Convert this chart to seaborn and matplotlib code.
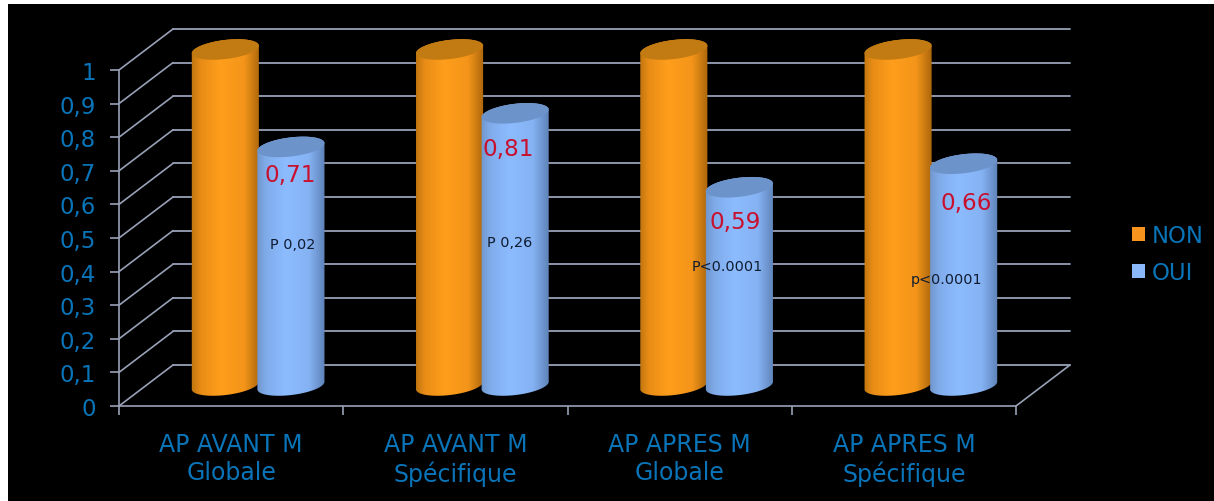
import numpy as np
import pandas as pd
import matplotlib
matplotlib.use("Agg")
import matplotlib.pyplot as plt
import seaborn as sns
from matplotlib.colors import LinearSegmentedColormap
from matplotlib.patches import Polygon, Rectangle
from matplotlib.path import Path
from matplotlib.transforms import Affine2D, IdentityTransform

categories = ["AP AVANT M\nGlobale", "AP AVANT M\nSpécifique", "AP APRES M\nGlobale", "AP APRES M\nSpécifique"]
non_values = [1, 1, 1, 1]
oui_values = [0.71, 0.81, 0.59, 0.66]
oui_labels = ["0,71", "0,81", "0,59", "0,66"]
p_labels = ["P 0,02", "P 0,26", "P<0.0001", "p<0.0001"]
y_ticks = [0, 0.1, 0.2, 0.3, 0.4, 0.5, 0.6, 0.7, 0.8, 0.9, 1]
y_tick_labels = ["0", "0,1", "0,2", "0,3", "0,4", "0,5", "0,6", "0,7", "0,8", "0,9", "1"]

# label placement, not data: pixels from bar top / height on the bar
value_offsets = [(-1, -28), (-7, -35), (-4, -34), (3, -39)]
p_offsets = [2, -6, -12, -17]
p_heights = [0.42, 0.427, 0.356, 0.317]

W, H = 1214, 502
DEPTH_X, DEPTH_Y = 27, 20.5  # half depth of the fake 3D box
GRID = "#98a1b6"
BLUE_TEXT = "#0a74b8"
ORANGE = "#f7941d"
BLUE = "#8ab8fb"

sns.set_theme(style="white")

fig = plt.figure(figsize=(W / 100, H / 100), dpi=100, facecolor="white")
fig.add_artist(Rectangle((8 / W, 0), 1 - 8 / W, 1 - 5 / H, transform=fig.transFigure,
                         facecolor="black", edgecolor="none", zorder=-1))

# front plane of the box: carries the real axes
front = fig.add_axes([119 / W, (H - 407) / H, 897 / W, 336 / H], facecolor="none", zorder=0)
front.set_xlim(-0.5, 3.5)
front.set_ylim(0, 1)
front.set_yticks(y_ticks, y_tick_labels)
front.set_xticks(range(4), categories)
front.set_xticks(np.arange(-0.5, 4), minor=True)
front.tick_params(axis="y", length=6.5, width=1.2, color=GRID, labelcolor=BLUE_TEXT, labelsize=16.5, pad=10, left=True)
front.tick_params(axis="x", which="major", length=0, labelcolor=BLUE_TEXT, labelsize=17, pad=19)
front.tick_params(axis="x", which="minor", length=6.5, width=1.2, color=GRID, bottom=True)
for label in front.get_xticklabels():
    label.set_linespacing(1.2)
for side in ["top", "right"]:
    front.spines[side].set_visible(False)
for side in ["left", "bottom"]:
    front.spines[side].set_color(GRID)
    front.spines[side].set_linewidth(1.2)

# middle plane: the cylinders stand here
ax = fig.add_axes([146 / W, (H - 386.5) / H, 897 / W, 336 / H], facecolor="none", zorder=1)

df = pd.DataFrame({
    "categorie": categories * 2,
    "valeur": non_values + oui_values,
    "groupe": ["NON"] * 4 + ["OUI"] * 4,
})
sns.barplot(data=df, x="categorie", y="valeur", hue="groupe", palette=[ORANGE, BLUE],
            width=0.585, gap=0, saturation=1, errorbar=None, ax=ax)
ax.set_xlim(-0.5, 3.5)
ax.set_ylim(0, 1)
ax.autoscale(False)
ax.axis("off")

back_shift = ax.transData + Affine2D().translate(DEPTH_X, DEPTH_Y)
front_shift = ax.transData + Affine2D().translate(-DEPTH_X, -DEPTH_Y)
for v in y_ticks:
    ax.plot([-0.5, 3.5], [v, v], transform=back_shift, color=GRID, lw=1.3, clip_on=False, zorder=0.5)
    x0, y0 = front_shift.transform((-0.5, v))
    x1, y1 = back_shift.transform((-0.5, v))
    ax.plot([x0, x1], [y0, y1], transform=IdentityTransform(), color=GRID, lw=1.2, clip_on=False, zorder=0.5)
x0, y0 = front_shift.transform((3.5, 0))
x1, y1 = back_shift.transform((3.5, 0))
ax.plot([x0, x1], [y0, y1], transform=IdentityTransform(), color=GRID, lw=1.2, clip_on=False, zorder=0.5)

cmaps = [
    LinearSegmentedColormap.from_list("orange_cyl", [(0, "#bd740f"), (0.14, "#e88c17"), (0.42, "#ff9e1c"), (0.76, "#f4951a"), (1, "#a8640c")]),
    LinearSegmentedColormap.from_list("blue_cyl", [(0, "#6f94c9"), (0.14, "#80abea"), (0.42, "#8cbcff"), (0.76, "#85b2f3"), (1, "#5c7fb4")]),
]
top_colors = ["#c27a12", "#6c94ca"]
TILT = np.deg2rad(7)
RY = 9.5
RX_EXTRA = 1  # cylinders overlap a little in the reference


def ellipse_points(cx, cy, rx, t):
    ex, ey = rx * np.cos(t), RY * np.sin(t)
    return np.column_stack([cx + ex * np.cos(TILT) - ey * np.sin(TILT),
                            cy + ex * np.sin(TILT) + ey * np.cos(TILT)])


gradient = np.linspace(0, 1, 256).reshape(1, -1)
for g, container in enumerate(ax.containers):
    for i, bar in enumerate(container):
        x, w, v = bar.get_x(), bar.get_width(), bar.get_height()
        bar.set_visible(False)
        z = 2 + i + g * 0.5
        (cx, top), (cx, base) = ax.transData.transform([(x + w / 2, v), (x + w / 2, 0)])
        rx = (ax.transData.transform((x + w, 0))[0] - ax.transData.transform((x, 0))[0]) / 2 + RX_EXTRA
        bottom_arc = ellipse_points(cx, base, rx, np.linspace(np.pi, 2 * np.pi, 60))
        top_arc = ellipse_points(cx, top, rx, np.linspace(0, np.pi, 60))
        body = np.vstack([bottom_arc, top_arc])
        pad = w * RX_EXTRA / rx
        im = ax.imshow(gradient, extent=(x - pad, x + w + pad, -0.1, v + 0.1), aspect="auto", cmap=cmaps[g],
                       vmin=0, vmax=1, zorder=z)
        im.set_clip_box(fig.bbox)
        im.set_clip_path(Path(np.vstack([body, body[:1]])), IdentityTransform())
        ax.add_patch(Polygon(ellipse_points(cx, top, rx, np.linspace(0, 2 * np.pi, 120)),
                             transform=IdentityTransform(), facecolor=top_colors[g],
                             edgecolor="none", clip_on=False, zorder=z + 0.1))
        if g == 1:
            dx, dy = value_offsets[i]
            ax.annotate(oui_labels[i], xy=(x + w / 2, v), xytext=(dx * 0.72, dy * 0.72), textcoords="offset points",
                        ha="center", va="center", color="#c8102e", fontsize=16.7, zorder=20)
            ax.annotate(p_labels[i], xy=(x + w / 2, p_heights[i]), xytext=(p_offsets[i] * 0.72, 0),
                        textcoords="offset points", ha="center", va="center", color="#101c30",
                        fontsize=10.4, zorder=20)

ax.set_xlim(-0.5, 3.5)
ax.set_ylim(0, 1)

sns.move_legend(ax, loc="upper left", bbox_to_anchor=(1132 / W, (H - 225) / H), bbox_transform=fig.transFigure,
                title=None, frameon=False, fontsize=16.4, labelcolor=BLUE_TEXT, handlelength=0.57,
                handleheight=0.57, handletextpad=0.3, labelspacing=0.6, borderpad=0, borderaxespad=0)
for handle in ax.get_legend().get_patches():
    handle.set_edgecolor("none")

fig.savefig("out.png", dpi=100, facecolor=fig.get_facecolor())
